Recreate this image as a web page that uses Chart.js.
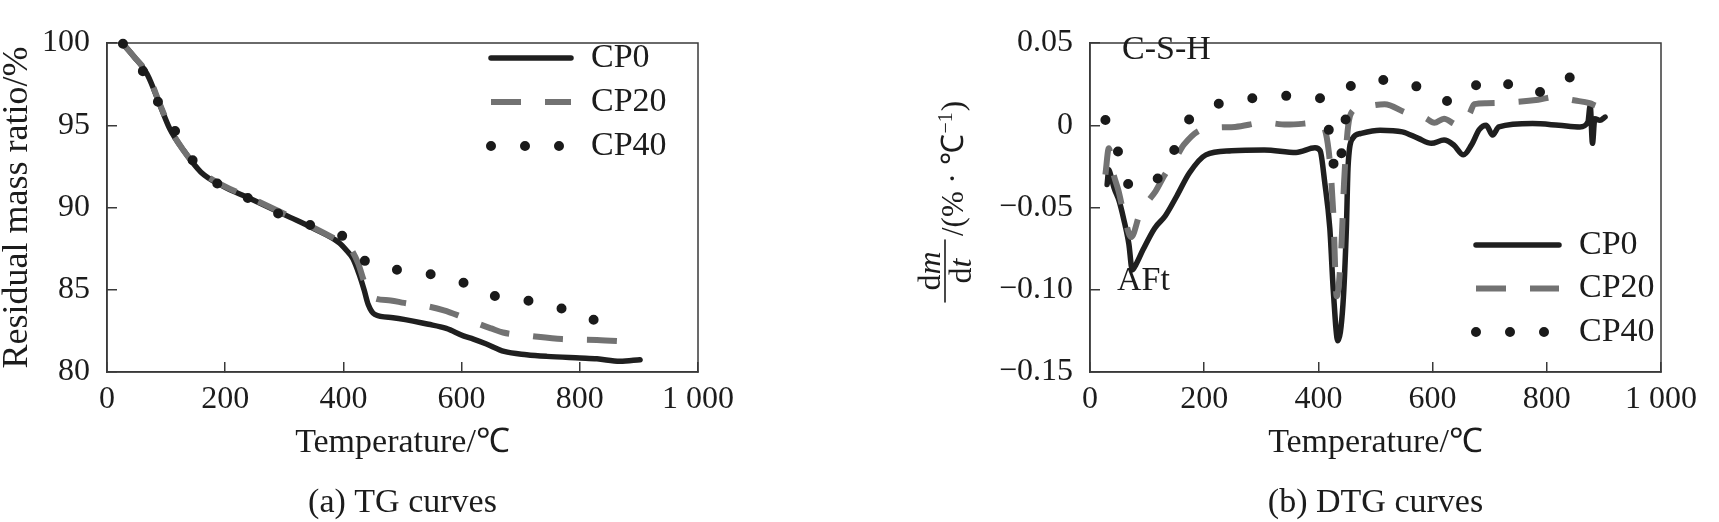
<!DOCTYPE html>
<html>
<head>
<meta charset="utf-8">
<script src="https://cdn.jsdelivr.net/npm/chart.js@4.4.0/dist/chart.umd.min.js"></script>
<style>
html, body { margin: 0; padding: 0; background: #fff; }
#wrap { position: relative; width: 1719px; height: 522px; }
.panel { position: absolute; top: 0; height: 522px; }
#panelA { left: 0; width: 860px; }
#panelB { left: 860px; width: 859px; }
</style>
</head>
<body>
<div id="wrap">
  <div class="panel" id="panelA"><canvas id="tgChart" width="860" height="522"></canvas></div>
  <div class="panel" id="panelB"><canvas id="dtgChart" width="859" height="522"></canvas></div>
</div>
<script>
// ---- data ----
const xTickValues = [0, 200, 400, 600, 800, 1000];
const xTickLabels = ["0", "200", "400", "600", "800", "1 000"];

// (a) TG curves, residual mass ratio (%)
const tgYTicks = [80, 85, 90, 95, 100];
const tgYLabels = ["80", "85", "90", "95", "100"];

const tgT_CP0 = [27, 45, 68, 91, 106, 129, 159, 196, 242, 310, 348, 393, 405, 416, 427, 435, 442, 453, 484, 544, 574, 603, 620, 642, 672, 710, 744, 800, 829, 868, 902];
const tgCP0 = [99.95, 99.2, 98.1, 96.1, 94.8, 93.5, 92.15, 91.3, 90.55, 89.4, 88.75, 87.85, 87.4, 86.9, 85.9, 85.0, 84.1, 83.5, 83.3, 82.9, 82.65, 82.2, 82.0, 81.7, 81.25, 81.05, 80.95, 80.85, 80.8, 80.65, 80.75];

const tgT_CP20 = [27, 45, 68, 91, 106, 129, 159, 196, 242, 310, 348, 393, 410, 425, 435, 445, 455, 480, 503, 541, 570, 597, 631, 650, 670, 716, 770, 829, 882];
const tgCP20 = [99.95, 99.2, 98.15, 96.15, 94.85, 93.5, 92.2, 91.35, 90.6, 89.45, 88.8, 87.95, 87.6, 86.6, 85.5, 84.7, 84.45, 84.35, 84.2, 84.0, 83.75, 83.4, 82.9, 82.65, 82.4, 82.2, 82.0, 81.95, 81.85];

const tgT_CP40 = [27, 53, 72, 91, 116, 136, 157, 189, 232, 272, 316, 359, 375, 413, 438, 465, 494, 554, 605, 658, 719, 766, 820, 865];
const tgCP40 = [99.95, 98.8, 97.45, 96.1, 94.6, 93.3, 92.4, 91.4, 90.7, 89.9, 89.3, 88.75, 88.6, 87.9, 86.7, 86.35, 86.2, 85.9, 85.4, 84.6, 84.3, 83.9, 83.2, 83.1];

// (b) DTG curves, dm/dt (%/℃)
const dtgYTicks = [-0.15, -0.1, -0.05, 0, 0.05];
const dtgYLabels = ["\u22120.15", "\u22120.10", "\u22120.05", "0", "0.05"];

const dtgT_CP0 = [30, 33, 36, 42, 51, 59, 68, 74, 80, 93, 113, 132, 152, 174, 203, 248, 305, 361, 394, 403, 411, 420, 426, 434, 443, 449, 452, 460, 474, 508, 547, 575, 598, 620, 637, 654, 668, 682, 694, 705, 716, 775, 821, 858, 872, 876, 880, 884, 893, 902];
const dtgCP0 = [-0.036, -0.027, -0.03, -0.038, -0.046, -0.057, -0.072, -0.088, -0.085, -0.0756, -0.0627, -0.055, -0.043, -0.029, -0.018, -0.0155, -0.015, -0.0165, -0.0137, -0.0155, -0.0345, -0.0627, -0.1, -0.131, -0.109, -0.0627, -0.025, -0.008, -0.005, -0.003, -0.004, -0.008, -0.011, -0.009, -0.012, -0.018, -0.012, -0.0025, 0, -0.006, -0.001, 0.001, 0, -0.001, 0.002, 0.012, -0.011, 0.004, 0.003, 0.005];

const dtgT_CP20 = [27, 33, 40, 50, 60, 72, 88, 102, 115, 130, 152, 164, 198, 254, 305, 344, 375, 401, 418, 426, 432, 440, 445, 451, 457, 474, 516, 553, 587, 603, 620, 640, 651, 665, 673, 694, 740, 785, 810, 850, 875, 885];
const dtgCP20 = [-0.03, -0.014, -0.028, -0.04, -0.055, -0.068, -0.053, -0.046, -0.04, -0.0306, -0.019, -0.012, -0.0024, -0.001, 0.0016, 0.0004, 0.001, 0.002, -0.0155, -0.053, -0.104, -0.076, -0.0345, -0.004, 0.0072, 0.0106, 0.0128, 0.0077, 0.0045, 0.0015, 0.004, 0.0005, 0, 0.0072, 0.0128, 0.0134, 0.014, 0.0155, 0.017, 0.015, 0.0134, 0.012];

const dtgT_CP40 = [27, 37, 56, 71, 85, 102, 135, 147, 166, 206, 266, 313, 367, 395, 411, 418, 428, 434, 441, 449, 457, 491, 541, 587, 631, 668, 714, 760, 807, 843, 866];
const dtgCP40 = [0.0032, -0.0063, -0.022, -0.038, -0.038, -0.035, -0.0267, -0.0155, 0, 0.0106, 0.0155, 0.0173, 0.018, 0.017, 0.0134, -0.0024, -0.026, -0.03, -0.0155, 0.0072, 0.024, 0.0275, 0.027, 0.0213, 0.0145, 0.023, 0.0275, 0.020, 0.021, 0.0297, 0.034];

// ---- look ----
const SERIF = "'Liberation Serif', 'Times New Roman', Times, serif";
const INK = "#1c1c1c";
const AXIS = "#3a3a3a";

function points(xs, ys) {
    return xs.map((x, i) => ({ x: x, y: ys[i] }));
}

function series(label, xs, ys, kind) {
    const ds = {
        label: label,
        data: points(xs, ys),
        pointRadius: 0,
        fill: false,
        cubicInterpolationMode: "monotone",
        clip: 10
    };
    if (kind === "solid") {
        Object.assign(ds, { borderColor: "#1f1f1f", borderWidth: 5.5, borderDash: [], borderCapStyle: "round", borderJoinStyle: "round", order: 3 });
    } else if (kind === "dash") {
        Object.assign(ds, { borderColor: "#727272", borderWidth: 6, borderDash: [30, 24], borderCapStyle: "butt", order: 2 });
    } else {
        Object.assign(ds, { borderColor: "#1a1a1a", borderWidth: 10, borderDash: [0, 34], borderCapStyle: "round", order: 1 });
    }
    return ds;
}

// frame, legend, caption, notes
const panelDecor = {
    id: "panelDecor",
    beforeDatasetsDraw(chart) {
        const ctx = chart.ctx;
        const a = chart.chartArea;
        ctx.save();
        ctx.strokeStyle = AXIS;
        ctx.lineWidth = 1.5;
        ctx.strokeRect(a.left, a.top, a.right - a.left, a.bottom - a.top);
        ctx.restore();
    },
    afterDraw(chart, args, o) {
        const ctx = chart.ctx;
        const a = chart.chartArea;
        ctx.save();
        // legend
        chart.data.datasets.forEach((ds, i) => {
            const y = o.legendY + i * o.legendStep;
            ctx.beginPath();
            ctx.setLineDash(ds.borderDash || []);
            ctx.lineCap = ds.borderCapStyle || "butt";
            ctx.lineWidth = ds.borderWidth;
            ctx.strokeStyle = ds.borderColor;
            ctx.moveTo(o.legendX, y);
            ctx.lineTo(o.legendX + o.legendLen, y);
            ctx.stroke();
            ctx.setLineDash([]);
            ctx.fillStyle = INK;
            ctx.font = "34px " + SERIF;
            ctx.textBaseline = "middle";
            ctx.textAlign = "left";
            ctx.fillText(ds.label, o.legendX + o.legendLen + 20, y);
        });
        // caption under the panel
        ctx.fillStyle = INK;
        ctx.font = "34px " + SERIF;
        ctx.textAlign = "center";
        ctx.textBaseline = "middle";
        ctx.fillText(o.caption, (a.left + a.right) / 2, 503);
        // notes inside the plot
        ctx.textAlign = "left";
        (o.notes || []).forEach(n => ctx.fillText(n.text, n.x, n.y));
        if (o.dtgTitle) drawDtgTitle(ctx);
        ctx.restore();
    }
};

// dm/dt /(%·℃⁻¹), rotated
function drawDtgTitle(ctx) {
    ctx.save();
    ctx.translate(85, 302);
    ctx.rotate(-Math.PI / 2);
    ctx.fillStyle = INK;
    ctx.textAlign = "left";
    ctx.textBaseline = "alphabetic";
    const up = "32px " + SERIF, it = "italic 32px " + SERIF;

    function pair(a, b, mid, base) {
        ctx.font = up; const wa = ctx.measureText(a).width;
        ctx.font = it; const wb = ctx.measureText(b).width;
        let u = mid - (wa + wb) / 2;
        ctx.font = up; ctx.fillText(a, u, base);
        ctx.font = it; ctx.fillText(b, u + wa, base);
    }
    pair("d", "m", 31, -5);
    pair("d", "t", 31, 26);
    ctx.strokeStyle = INK;
    ctx.lineWidth = 1.6;
    ctx.beginPath();
    ctx.moveTo(0, 0);
    ctx.lineTo(62, 0);
    ctx.stroke();

    let u = 66;
    const base = 18;
    ctx.font = "31px " + SERIF;
    const t1 = "/(% \u00b7 \u2103";
    ctx.fillText(t1, u, base);
    u += ctx.measureText(t1).width;
    ctx.font = "20px " + SERIF;
    ctx.fillText("\u22121", u + 1, base - 11);
    u += ctx.measureText("\u22121").width + 2;
    ctx.font = "31px " + SERIF;
    ctx.fillText(")", u, base);
    ctx.restore();
}

function xScale() {
    return {
        type: "linear",
        min: 0,
        max: 1000,
        afterBuildTicks: s => { s.ticks = xTickValues.map(v => ({ value: v })); },
        afterFit: s => { s.height = 150; },
        border: { display: true, color: AXIS, width: 1.5 },
        grid: { drawOnChartArea: false, drawTicks: true, tickLength: -10, color: AXIS, lineWidth: 1.5 },
        ticks: {
            color: INK, padding: 22, maxRotation: 0, autoSkip: false,
            font: { family: SERIF, size: 32, lineHeight: 1 },
            callback: (v, i) => xTickLabels[i]
        },
        title: {
            display: true, text: "Temperature/\u2103", color: INK,
            font: { family: SERIF, size: 34, lineHeight: 1.2 },
            padding: { top: 0, bottom: 59 }
        }
    };
}

function yScale(min, max, values, labels, width, title) {
    return {
        type: "linear",
        min: min,
        max: max,
        afterBuildTicks: s => { s.ticks = values.map(v => ({ value: v })); },
        afterFit: s => { s.width = width; },
        border: { display: true, color: AXIS, width: 1.5 },
        grid: { drawOnChartArea: false, drawTicks: true, tickLength: -10, color: AXIS, lineWidth: 1.5 },
        ticks: {
            color: INK, padding: 27, autoSkip: false,
            font: { family: SERIF, size: 32, lineHeight: 1 },
            callback: (v, i) => labels[i]
        },
        title: title ? {
            display: true, text: title, color: INK,
            font: { family: SERIF, size: 36, lineHeight: 1 },
            padding: { top: 0, bottom: 0 }
        } : { display: false }
    };
}

document.addEventListener("DOMContentLoaded", function () {
    new Chart(document.getElementById("tgChart"), {
        type: "line",
        data: {
            datasets: [
                series("CP0", tgT_CP0, tgCP0, "solid"),
                series("CP20", tgT_CP20, tgCP20, "dash"),
                series("CP40", tgT_CP40, tgCP40, "dot")
            ]
        },
        options: {
            responsive: false,
            animation: false,
            layout: { padding: { top: 18, right: 162, bottom: 0, left: 0 } },
            scales: {
                x: xScale(),
                y: yScale(80, 100, tgYTicks, tgYLabels, 107, "Residual mass ratio/%")
            },
            plugins: {
                legend: { display: false },
                tooltip: { enabled: false },
                panelDecor: { legendX: 491, legendY: 58, legendStep: 44, legendLen: 80, caption: "(a) TG curves" }
            }
        },
        plugins: [panelDecor]
    });

    new Chart(document.getElementById("dtgChart"), {
        type: "line",
        data: {
            datasets: [
                series("CP0", dtgT_CP0, dtgCP0, "solid"),
                series("CP20", dtgT_CP20, dtgCP20, "dash"),
                series("CP40", dtgT_CP40, dtgCP40, "dot")
            ]
        },
        options: {
            responsive: false,
            animation: false,
            layout: { padding: { top: 17, right: 38, bottom: 0, left: 0 } },
            scales: {
                x: xScale(),
                y: yScale(-0.15, 0.05, dtgYTicks, dtgYLabels, 230, null)
            },
            plugins: {
                legend: { display: false },
                tooltip: { enabled: false },
                panelDecor: {
                    legendX: 616, legendY: 245, legendStep: 43.5, legendLen: 83,
                    caption: "(b) DTG curves",
                    notes: [{ text: "C-S-H", x: 262, y: 50 }, { text: "AFt", x: 257, y: 281 }],
                    dtgTitle: true
                }
            }
        },
        plugins: [panelDecor]
    });
});
</script>
</body>
</html>
